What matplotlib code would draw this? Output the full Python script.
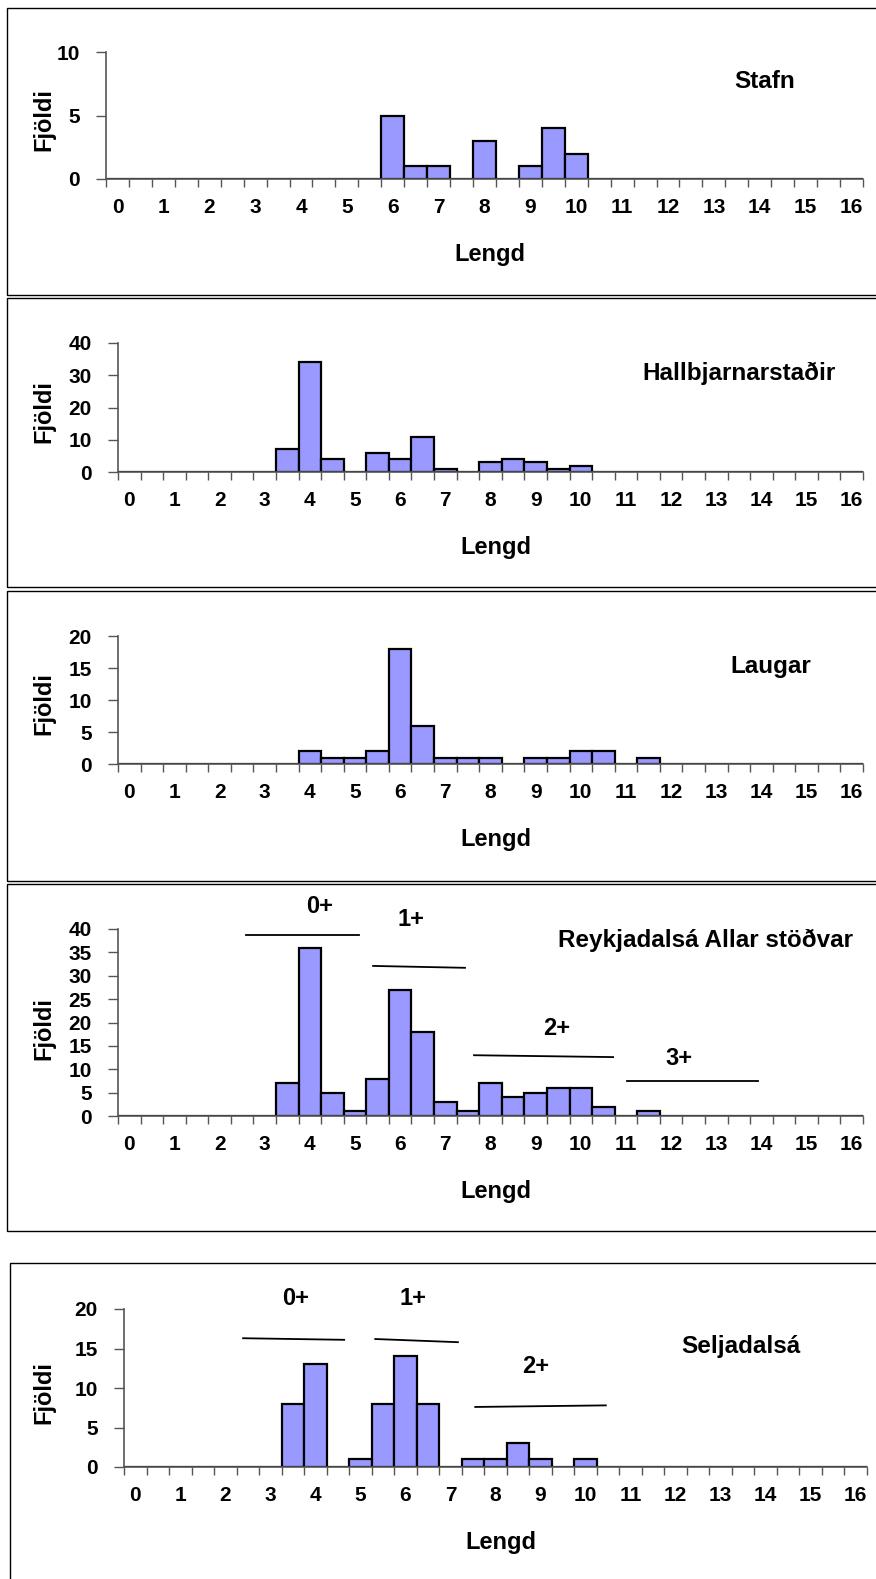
import numpy as np
import matplotlib
matplotlib.use("Agg")
import matplotlib.pyplot as plt
from matplotlib.patches import Rectangle

plt.rcParams['font.family'] = ['Liberation Sans', 'DejaVu Sans']
plt.rcParams['font.weight'] = 'bold'

# === data: counts per length class (0, 0.5, 1, ..., 16) ===
lengd = [i * 0.5 for i in range(33)]
tick_labels = [str(int(v)) if v == int(v) else "" for v in lengd]

stafn = [0, 0, 0, 0, 0, 0, 0, 0, 0, 0, 0, 0, 5, 1, 1, 0, 3, 0, 1, 4, 2,
         0, 0, 0, 0, 0, 0, 0, 0, 0, 0, 0, 0]
hallbjarnarstadir = [0, 0, 0, 0, 0, 0, 0, 7, 34, 4, 0, 6, 4, 11, 1, 0, 3, 4, 3, 1, 2,
                     0, 0, 0, 0, 0, 0, 0, 0, 0, 0, 0, 0]
laugar = [0, 0, 0, 0, 0, 0, 0, 0, 2, 1, 1, 2, 18, 6, 1, 1, 1, 0, 1, 1, 2,
          2, 0, 1, 0, 0, 0, 0, 0, 0, 0, 0, 0]
reykjadalsa = [0, 0, 0, 0, 0, 0, 0, 7, 36, 5, 1, 8, 27, 18, 3, 1, 7, 4, 5, 6, 6,
               2, 0, 1, 0, 0, 0, 0, 0, 0, 0, 0, 0]
seljadalsa = [0, 0, 0, 0, 0, 0, 0, 8, 13, 0, 1, 8, 14, 8, 0, 1, 1, 3, 1, 0, 1,
              0, 0, 0, 0, 0, 0, 0, 0, 0, 0, 0, 0]

titles = ["Stafn", "Hallbjarnarstaðir", "Laugar", "Reykjadalsá Allar stöðvar", "Seljadalsá"]
series = [stafn, hallbjarnarstadir, laugar, reykjadalsa, seljadalsa]
ymax = [10, 40, 20, 40, 20]
ystep = [5, 10, 5, 5, 5]

# age group annotations (text, text pos, line start, line end) in category-index coords
ages_reyk = [("0+", (8.45, 44.9), (5.17, 38.7), (10.18, 38.7)),
             ("1+", (12.5, 42.1), (10.8, 32.1), (14.87, 31.7)),
             ("2+", (18.95, 18.8), (15.27, 13.0), (21.43, 12.6)),
             ("3+", (24.36, 12.4), (22.05, 7.5), (27.85, 7.5))]
ages_selja = [("0+", (7.14, 21.3), (4.79, 16.3), (9.28, 16.1)),
              ("1+", (12.35, 21.3), (10.66, 16.2), (14.33, 15.8)),
              ("2+", (17.77, 12.7), (15.1, 7.6), (20.9, 7.8))]
ages = [None, None, None, ages_reyk, ages_selja]

# === layout in pixels ===
W, H = 876, 1579
fig = plt.figure(figsize=(W / 100, H / 100), dpi=100)

# panel frames: left, top, right, bottom
frames = [(7, 8, 890, 295), (7, 298, 890, 587), (7, 591, 890, 881),
          (7, 884, 890, 1231), (10, 1263, 890, 1600)]
# axes: left, top(ymax), right, bottom(0)
axes_px = [(106, 52, 863, 179), (118, 343, 863, 472), (118, 636, 863, 764),
           (118, 929, 863, 1116), (124, 1309, 867, 1467)]
title_px = [(765, 82), (739, 373), (771, 667), (706, 940), (741, 1346)]

for (l, t, r, b) in frames:
    fig.patches.append(Rectangle((l / W, 1 - b / H), (r - l) / W, (b - t) / H,
                                 transform=fig.transFigure, fill=False,
                                 edgecolor='black', linewidth=1.0))

x = np.arange(len(lengd))
for k in range(5):
    l, t, r, b = axes_px[k]
    ax = fig.add_axes([l / W, 1 - b / H, (r - l) / W, (b - t) / H])
    ax.bar(x, series[k], width=1.0, color='#9999FF', edgecolor='black', linewidth=1.6)
    ax.set_xlim(-0.5, len(lengd) - 0.5)
    ax.set_ylim(0, ymax[k])
    ax.set_yticks(np.arange(0, ymax[k] + 1, ystep[k]))
    ax.set_xticks(x)
    ax.set_xticklabels(tick_labels)
    ax.set_xticks(np.arange(-0.5, len(lengd)), minor=True)
    ax.tick_params(axis='x', which='major', length=0, pad=14, labelsize=15)
    ax.tick_params(axis='x', which='minor', length=6, width=1, color='#555555')
    ax.tick_params(axis='y', length=7, width=1, color='#555555', pad=12, labelsize=15)
    for lab in ax.get_xticklabels() + ax.get_yticklabels():
        lab.set_fontweight('bold')
    for s in ['top', 'right']:
        ax.spines[s].set_visible(False)
    for s in ['left', 'bottom']:
        ax.spines[s].set_color('#555555')
        ax.spines[s].set_linewidth(1.2)
    ax.set_xlabel("Lengd", fontsize=17, fontweight='bold')
    ax.xaxis.set_label_coords(0.507, -64 / (b - t))
    ax.set_ylabel("Fjöldi", fontsize=17, fontweight='bold')
    ax.yaxis.set_label_coords(-(l - 55) / (r - l), 0.47)
    tx, ty = title_px[k]
    fig.text(tx / W, 1 - ty / H, titles[k], fontsize=17.5, fontweight='bold',
             ha='center', va='center')
    if ages[k]:
        for txt, (px, py), (x0, y0), (x1, y1) in ages[k]:
            ax.text(px, py, txt, fontsize=17, fontweight='bold', ha='center',
                    va='center', clip_on=False)
            ax.plot([x0, x1], [y0, y1], color='black', linewidth=1.3, clip_on=False)

fig.savefig("out.png", dpi=100)
